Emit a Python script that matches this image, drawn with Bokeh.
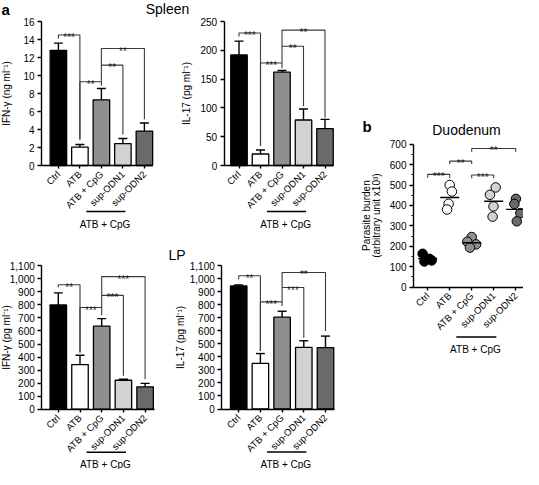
import math
from bokeh.plotting import figure
from bokeh.models import Range1d, LinearAxis, FixedTicker, NumeralTickFormatter
from bokeh.core.properties import value
from bokeh.embed import file_html
from bokeh.resources import INLINE

# ---------------- data ----------------
groups = ["Ctrl", "ATB", "ATB + CpG", "sup-ODN1", "sup-ODN2"]
group_pos = [1, 2, 3, 4, 5]

spleen_ifn = [12.8, 2.05, 7.3, 2.42, 3.83]
spleen_ifn_err = [0.8, 0.28, 1.25, 0.58, 0.9]
spleen_il17 = [192, 20, 162, 79, 64]
spleen_il17_err = [24, 7, 3, 19, 16]
lp_ifn = [800, 342, 637, 222, 172]
lp_ifn_err = [92, 72, 58, 8, 26]
lp_il17 = [945, 350, 705, 474, 472]
lp_il17_err = [8, 76, 46, 50, 88]

# brackets: (group a, group b, top level, leg end at a, leg end at b, label)
spleen_ifn_sig = [(1, 2, 14.5, 14.1, 2.9, "***"), (2, 3, 9.3, 2.9, 8.85, "**"),
                  (3, 4, 11.15, 9.3, 3.45, "**"), (3, 5, 13.0, 11.15, 5.15, "**")]
spleen_il17_sig = [(1, 2, 230, 224, 34, "***"), (2, 3, 178, 34, 169, "***"),
                   (3, 4, 207, 178, 103, "**"), (3, 5, 235, 207, 83, "**")]
lp_ifn_sig = [(1, 2, 955, 935, 435, "**"), (2, 3, 780, 435, 720, "***"),
              (3, 4, 873, 780, 256, "***"), (3, 5, 1017, 873, 230, "***")]
lp_il17_sig = [(1, 2, 1023, 997, 445, "**"), (2, 3, 823, 445, 792, "***"),
               (3, 4, 933, 823, 548, "***"), (3, 5, 1049, 933, 599, "**")]

duo_ctrl = [163, 138, 125, 130]
duo_atb = [500, 468, 408, 380]
duo_cpg = [245, 222, 209, 193]
duo_odn1 = [488, 452, 395, 345]
duo_odn2 = [432, 407, 362, 322]
duo_jitter = [[-0.23, 0.08, -0.15, 0.18], [0.0, 0.1, -0.05, -0.12], [0.0, -0.2, 0.2, -0.08],
              [0.09, -0.17, -0.01, -0.05], [0.01, -0.06, 0.21, 0.05]]
duo_sig = [(1, 2, 552, 536, 536, "***"), (2, 3, 617, 603, 603, "**"),
           (3, 4, 549, 533, 533, "***"), (3, 5, 679, 663, 663, "**")]

spleen_ifn_ticks = list(range(0, 17, 2))
spleen_il17_ticks = list(range(0, 251, 50))
lp_ticks = list(range(0, 1101, 100))
duo_ticks = list(range(0, 701, 100))
duo_minor = list(range(50, 700, 100))

# ---------------- style ----------------
FONT = "Liberation Sans"
fills = ["#000000", "#ffffff", "#8f8f8f", "#d2d2d2", "#6a6a6a"]
W, H = 523, 469
OX, OY = 8, 8

p = figure(width=W, height=H, x_range=Range1d(OX, OX + W), y_range=Range1d(OY + H, OY),
           x_axis_type=None, y_axis_type=None, output_backend="svg",
           toolbar_location=None, min_border=0)
p.outline_line_color = None
p.background_fill_color = "white"


def make_panel(name, axis_px, x1_px, dx, y0_px, ytop_px, ymax, xend_px):
    ky = ymax / (y0_px - ytop_px)
    p.extra_x_ranges[name] = Range1d(1 + (OX - x1_px) / dx, 1 + (OX + W - x1_px) / dx)
    p.extra_y_ranges[name] = Range1d(-(OY + H - y0_px) * ky, ymax + (ytop_px - OY) * ky)
    return dict(name=name, dx=dx, ky=ky, xa=1 + (axis_px - x1_px) / dx,
                xe=1 + (xend_px - x1_px) / dx, ymax=ymax)


def rk(P):
    return dict(x_range_name=P["name"], y_range_name=P["name"])


def add_axes(P, yticks, fmt=None, minor=None):
    ya = LinearAxis(fixed_location=P["xa"], bounds=(0, P["ymax"]),
                    ticker=FixedTicker(ticks=yticks, minor_ticks=minor or []), **rk(P))
    if fmt:
        ya.formatter = fmt
    xa = LinearAxis(fixed_location=0, bounds=(P["xa"], P["xe"]),
                    ticker=FixedTicker(ticks=group_pos),
                    major_label_overrides={g: t for g, t in zip(group_pos, groups)},
                    major_label_orientation=math.pi / 4, **rk(P))
    for ax in (ya, xa):
        ax.axis_line_width = 1.4
        ax.axis_line_color = "black"
        ax.major_tick_line_width = 1.4
        ax.major_tick_in = 0
        ax.major_tick_out = 4
        ax.minor_tick_in = 0
        ax.minor_tick_out = 2
        ax.minor_tick_line_width = 1
        ax.major_label_text_font = FONT
        ax.major_label_text_font_size = "10px"
        ax.major_label_text_color = "black"
        ax.major_label_standoff = 3
    xa.major_tick_out = 3
    xa.major_label_standoff = 4
    xa.major_label_text_font_size = "9.5px"
    p.add_layout(ya, "left")
    p.add_layout(xa, "below")


def ylabel(P, lines, offs):
    for txt, off in zip(lines, offs):
        p.text(x=[P["xa"] - off / P["dx"]], y=[P["ymax"] / 2], text=[txt], angle=math.pi / 2,
               text_font=value(FONT), text_font_size=value("10px"), text_align="center",
               text_baseline="middle", text_color="black", **rk(P))


def group_label(P, line_off, text_off):
    y_line = -line_off * P["ky"]
    y_text = -text_off * P["ky"]
    p.segment(x0=[2.3], y0=[y_line], x1=[4.12], y1=[y_line], line_color="black",
              line_width=1.4, **rk(P))
    p.text(x=[3.17], y=[y_text], text=["ATB + CpG"], text_font=value(FONT),
           text_font_size=value("10px"), text_align="center", text_baseline="middle",
           text_color="black", **rk(P))


def brackets(P, sig):
    xs, ys, mx, my, lab = [], [], [], [], []
    for a, b, top, la, lb, t in sig:
        xs.append([a, a, b, b])
        ys.append([la, top, top, lb])
        mx.append((a + b) / 2)
        my.append(top)
        lab.append(t)
    p.multi_line(xs=xs, ys=ys, line_color="#3a3a3a", line_width=1.1, **rk(P))
    p.text(x=mx, y=my, text=lab, text_font=value(FONT), text_font_size=value("10px"),
           text_align="center", text_baseline="alphabetic", y_offset=2.5,
           text_color="#222222", **rk(P))


def bar_panel(P, vals, errs, sig):
    w = 16.5 / P["dx"]
    cw = 4.5 / P["dx"]
    tops = [v + e for v, e in zip(vals, errs)]
    p.segment(x0=group_pos, y0=vals, x1=group_pos, y1=tops, line_color="black",
              line_width=1.4, **rk(P))
    p.segment(x0=[g - cw for g in group_pos], y0=tops, x1=[g + cw for g in group_pos], y1=tops,
              line_color="black", line_width=1.4, **rk(P))
    p.vbar(x=group_pos, top=vals, bottom=0, width=w, fill_color=fills, line_color="black",
           line_width=1.3, **rk(P))
    brackets(P, sig)


# ---------------- panels ----------------
P1 = make_panel("sp_ifn", 49, 65.9, 21.5, 173, 29, 16, 160)
P2 = make_panel("sp_il17", 231.7, 246.5, 21.5, 173, 29, 250, 341)
P3 = make_panel("lp_ifn", 49.3, 65.8, 21.7, 416.7, 273.3, 1100, 162)
P4 = make_panel("lp_il17", 229.3, 246.2, 21.7, 416.5, 273.3, 1100, 342)
PB = make_panel("duo", 421, 435.2, 22, 294.5, 151.7, 700, 531)

bar_panel(P1, spleen_ifn, spleen_ifn_err, spleen_ifn_sig)
bar_panel(P2, spleen_il17, spleen_il17_err, spleen_il17_sig)
bar_panel(P3, lp_ifn, lp_ifn_err, lp_ifn_sig)
bar_panel(P4, lp_il17, lp_il17_err, lp_il17_sig)

add_axes(P1, spleen_ifn_ticks)
add_axes(P2, spleen_il17_ticks)
add_axes(P3, lp_ticks, NumeralTickFormatter(format="0,0"))
add_axes(P4, lp_ticks, NumeralTickFormatter(format="0,0"))
add_axes(PB, duo_ticks, minor=duo_minor)

ylabel(P1, ["IFN-\u03b3 (ng ml\u207b\u00b9)"], [35])
ylabel(P2, ["IL-17 (pg ml\u207b\u00b9)"], [38])
ylabel(P3, ["IFN-\u03b3 (pg ml\u207b\u00b9)"], [35.5])
ylabel(P4, ["IL-17 (pg ml\u207b\u00b9)"], [41])
ylabel(PB, ["Parasite burden", "(arbitrary unit x10\u00b3)"], [47.5, 37.5])

for P in (P1, P2):
    group_label(P, 46, 59)
for P in (P3, P4):
    group_label(P, 43, 55)
group_label(PB, 50, 62)

# duodenum scatter
duo_all = [duo_ctrl, duo_atb, duo_cpg, duo_odn1, duo_odn2]
for g, vals, jit, col in zip(group_pos, duo_all, duo_jitter, fills):
    p.scatter(x=[g + j for j in jit], y=vals, size=9.5, marker="circle", fill_color=col,
              line_color="black", line_width=1, **rk(PB))
means = [sum(v) / len(v) for v in duo_all]
hw = 9.5 / PB["dx"]
p.segment(x0=[g - hw for g in group_pos], y0=means, x1=[g + hw for g in group_pos], y1=means,
          line_color="black", line_width=1.4, **rk(PB))
brackets(PB, duo_sig)

# titles and panel letters (layout coordinates)
p.text(x=[175, 184.5, 474], y=[16, 262, 137], text=["Spleen", "LP", "Duodenum"],
       text_font=value(FONT), text_font_size=value("14px"), text_align="center",
       text_baseline="alphabetic", text_color="black")
p.text(x=[9, 370], y=[17, 134], text=["a", "b"], text_font=value(FONT),
       text_font_size=value("15px"), text_font_style="bold", text_align="left",
       text_baseline="alphabetic", text_color="black")

open("out.html", "w").write(file_html(p, INLINE))
